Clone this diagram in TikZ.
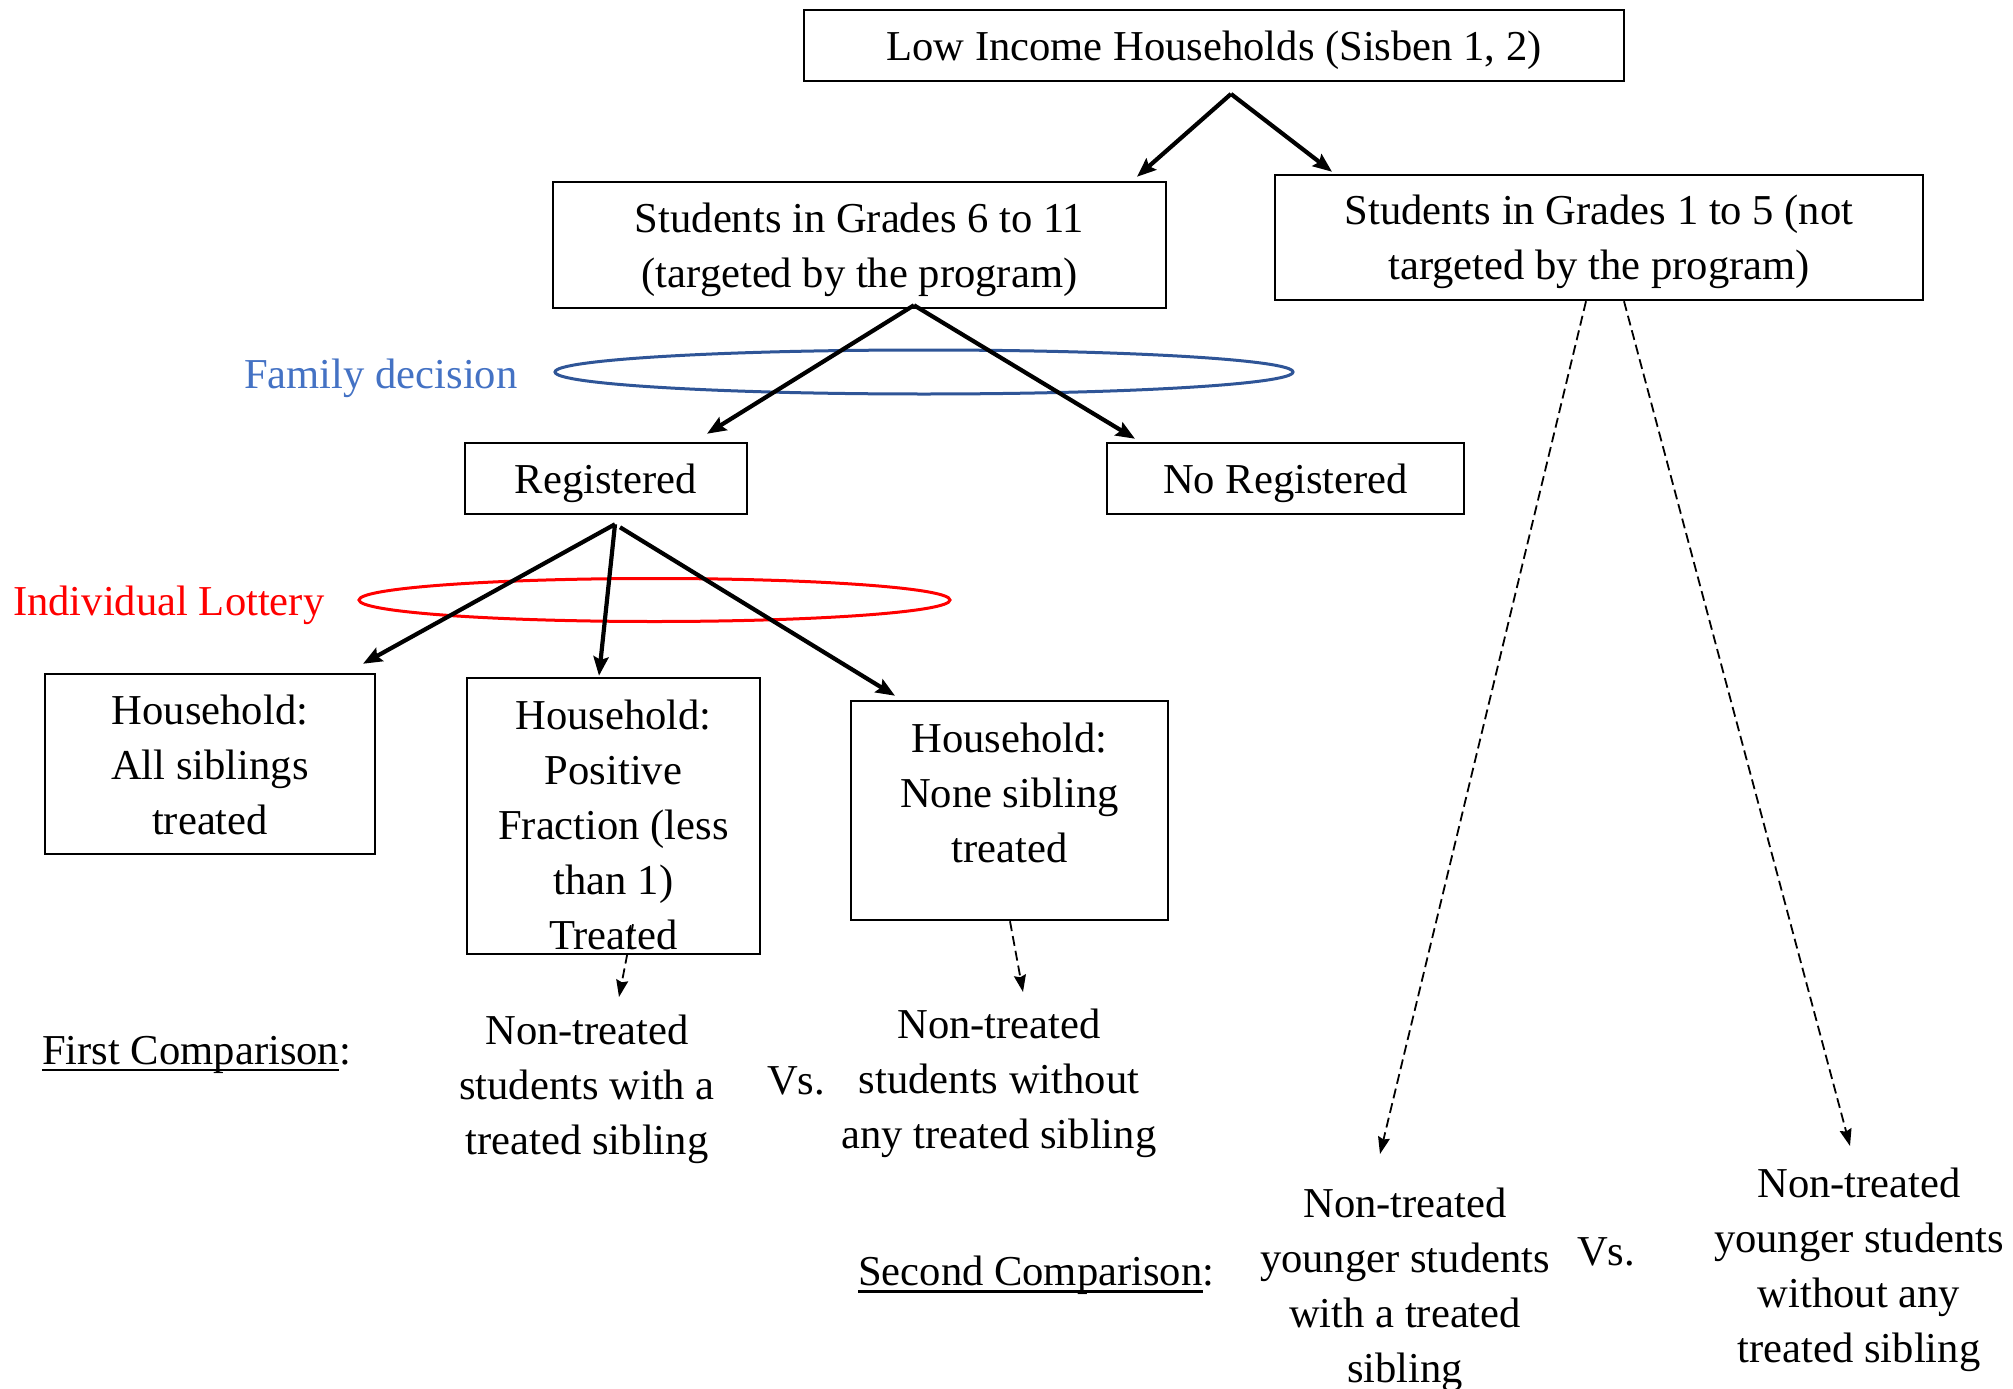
\documentclass[tikz,border=0pt]{standalone}
\usepackage{fontspec}
\setmainfont{Liberation Serif}
\usetikzlibrary{arrows.meta,shapes.geometric}
\definecolor{famblue}{RGB}{68,114,196}
\definecolor{ellblue}{RGB}{47,85,151}
\definecolor{lotred}{RGB}{255,0,0}
\newcommand\myul[1]{\leavevmode\setbox0\hbox{#1}\rlap{\rule[-7.3pt]{\wd0}{2.6pt}}\box0}
\begin{document}
\begin{tikzpicture}[x=1pt,y=-1pt,
  every node/.style={font=\fontsize{42.6pt}{55pt}\selectfont},
  box/.style={draw,line width=2.5pt,inner sep=0pt,align=center},
  onebox/.style={box,text height=35pt,text depth=5pt},
  txt/.style={inner sep=0pt,align=center,anchor=north},
  lbl/.style={inner sep=0pt,anchor=base west},
  thick arrow/.style={line width=4.2pt,-{Stealth[length=19pt,width=15pt,inset=3pt]}},
  dash arrow/.style={line width=1.8pt,dash pattern=on 10pt off 5pt,-{Stealth[length=17pt,width=12pt,inset=2pt]}},
  ell/.style={ellipse,inner sep=0pt,line width=3pt}]
\useasboundingbox[fill=white] (0,0) rectangle (2013,1389);

% boxes
\node[onebox,minimum width=820pt,minimum height=71pt] (low) at (1214,45.5) {Low Income Households (Sisben 1, 2)};
\node[box,minimum width=613pt,minimum height=126pt] (s611) at (859.5,245) {};
\node[txt] (s611T) at (859.5,203) {Students in Grades 6 to 11\\(targeted by the program)};
\node[box,minimum width=648pt,minimum height=125pt] (s15) at (1599,237.5) {};
\node[txt] (s15T) at (1599,195) {Students in Grades 1 to 5 (not\\targeted by the program)};
\node[onebox,minimum width=282pt,minimum height=71pt] (reg) at (606,478.5) {Registered};
\node[onebox,minimum width=357pt,minimum height=71pt] (noreg) at (1285.5,478.5) {No Registered};
\node[box,minimum width=330pt,minimum height=180pt] (hhall) at (210,764) {};
\node[txt] (hhallT) at (210,695) {Household:\\All siblings\\treated};
\node[box,minimum width=293pt,minimum height=276pt] (hhpos) at (613.5,816) {};
\node[txt] (hhposT) at (613.5,700) {Household:\\Positive\\Fraction (less\\than 1)\\Treated};
\node[box,minimum width=317pt,minimum height=219pt] (hhnone) at (1009.5,810.5) {};
\node[txt] (hhnoneT) at (1009.5,723) {Household:\\None sibling\\treated};

% ellipses and their labels
\node[ell,draw=ellblue,minimum width=738pt,minimum height=44pt] (famell) at (924,372) {};
\node[lbl,text=famblue] (fam) at (244,388.5) {Family decision};
\node[ell,draw=lotred,minimum width=591pt,minimum height=43pt] (lotell) at (654.5,600) {};
\node[lbl,text=lotred] (lot) at (13,615) {Individual Lottery};

% comparison texts
\node[lbl] (fc) at (42,1064) {\myul{First Comparison}:};
\node[txt] (nt1) at (587,1015) {Non-treated\\students with a\\treated sibling};
\node[inner sep=0pt,anchor=base] (vs1) at (796,1094) {Vs.};
\node[txt] (nt2) at (999,1009) {Non-treated\\students without\\any treated sibling};
\node[lbl] (sc) at (858,1285.5) {\myul{Second Comparison}:};
\node[txt] (ynt1) at (1405,1188) {Non-treated\\younger students\\with a treated\\sibling};
\node[inner sep=0pt,anchor=base] (vs2) at (1606,1265) {Vs.};
\node[txt] (ynt2) at (1859,1168) {Non-treated\\younger students\\without any\\treated sibling};

% solid arrows
\draw[thick arrow] ([xshift=17pt,yshift=-11.7pt]low.south) -- ([xshift=277.5pt,yshift=4pt]s611.north);
\draw[thick arrow] ([xshift=17pt,yshift=-11.7pt]low.south) -- ([xshift=-267pt,yshift=2pt]s15.north);
\draw[thick arrow] ([xshift=54.5pt,yshift=4pt]s611.south) -- ([xshift=101pt,yshift=8pt]reg.north);
\draw[thick arrow] ([xshift=54.5pt,yshift=4pt]s611.south) -- ([xshift=-150.5pt,yshift=3pt]noreg.north);
\draw[thick arrow] ([xshift=9pt,yshift=-9pt]reg.south) -- ([xshift=153pt,yshift=9pt]hhall.north);
\draw[thick arrow] ([xshift=9pt,yshift=-9pt]reg.south) -- ([xshift=-14.5pt,yshift=1pt]hhpos.north);
\draw[thick arrow] ([xshift=14pt,yshift=-12pt]reg.south) -- ([xshift=-114.5pt,yshift=4pt]hhnone.north);

% dashed arrows
\draw[dash arrow] ([xshift=19.5pt,yshift=31pt]hhpos.south) -- ([xshift=32pt,yshift=18pt]nt1.north);
\draw[dash arrow] ([xshift=0.5pt]hhnone.south) -- ([xshift=24pt,yshift=17pt]nt2.north);
\draw[dash arrow] ([xshift=-13pt]s15.south) -- ([xshift=-25pt,yshift=34pt]ynt1.north);
\draw[dash arrow] ([xshift=25pt]s15.south) -- ([xshift=-9pt,yshift=22pt]ynt2.north);
\end{tikzpicture}
\end{document}
